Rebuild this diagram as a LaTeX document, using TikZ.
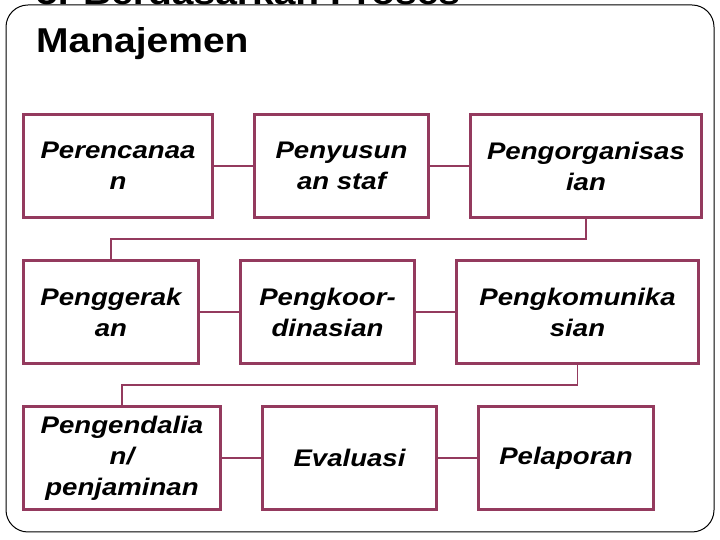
\documentclass[tikz,border=0pt]{standalone}
\usepackage{fontspec}
\newfontfamily\boxfont{Liberation Sans}[FakeStretch=1.15]
\newfontfamily\titlefont{Liberation Sans}[FakeStretch=1.13]
\usepackage{xcolor}
\usetikzlibrary{positioning}
\definecolor{plum}{RGB}{148,58,94}
\tikzset{
    auto,node distance =40pt and 39pt,% vertical and horizontal distance between the boxes, border to border
}
\begin{document}
\begin{tikzpicture}[x=1pt, y=1pt
        ,procbox/.style ={draw=plum, line width=3pt, minimum height=103pt, inner sep=0pt, align=center,
            font=\boxfont\bfseries\itshape\fontsize{24}{31}\selectfont},
        titletext/.style ={anchor=base west, inner sep=0pt, font=\titlefont\bfseries\fontsize{34.5}{40}\selectfont},
        link/.style ={draw=plum, line width=1.2pt},]
            \useasboundingbox (0,0) rectangle (720,540);
            \draw[rounded corners=22pt, line width=1pt] (6,8) rectangle (714,535);
            \node[titletext] (title1) at (36,535) {5. Berdasarkan Proses};
            \node[titletext] (title2) at (36,487) {Manajemen};
            \node[procbox, minimum width=189pt, anchor=north west] (rencana) at (22,427) {Perencanaa\\n};
            \node[procbox, minimum width=174pt] (staf) [right =of rencana] {Penyusun\\an staf};
            \node[procbox, minimum width=231pt] (organisasi) [right =of staf] {Pengorganisas\\ian};
            \node[procbox, minimum width=175pt] (gerak) [below right =40pt and 0pt of rencana.south west] {Penggerak\\an};
            \node[procbox, minimum width=174pt] (koordinasi) [right =of gerak] {Pengkoor-\\dinasian};
            \node[procbox, minimum width=242pt] (komunikasi) [right =of koordinasi] {Pengkomunika\\sian};
            \node[procbox, minimum width=197pt] (kendali) [below right =40pt and 0pt of gerak.south west] {Pengendalia\\n/\\penjaminan};
            \node[procbox, minimum width=174pt] (evaluasi) [right =of kendali] {Evaluasi};
            \node[procbox, minimum width=175pt] (lapor) [right =of evaluasi] {Pelaporan};
            \path[link] (rencana) edge (staf);
            \path[link] (staf) edge (organisasi);
            \draw[link] (organisasi.south) -- ++(0,-20) -| (gerak.north);
            \path[link] (gerak) edge (koordinasi);
            \path[link] (koordinasi) edge (komunikasi);
            \draw[link] (komunikasi.south) -- ++(0,-20) -| (kendali.north);
            \path[link] (kendali) edge (evaluasi);
            \path[link] (evaluasi) edge (lapor);
        \end{tikzpicture}
\end{document}
